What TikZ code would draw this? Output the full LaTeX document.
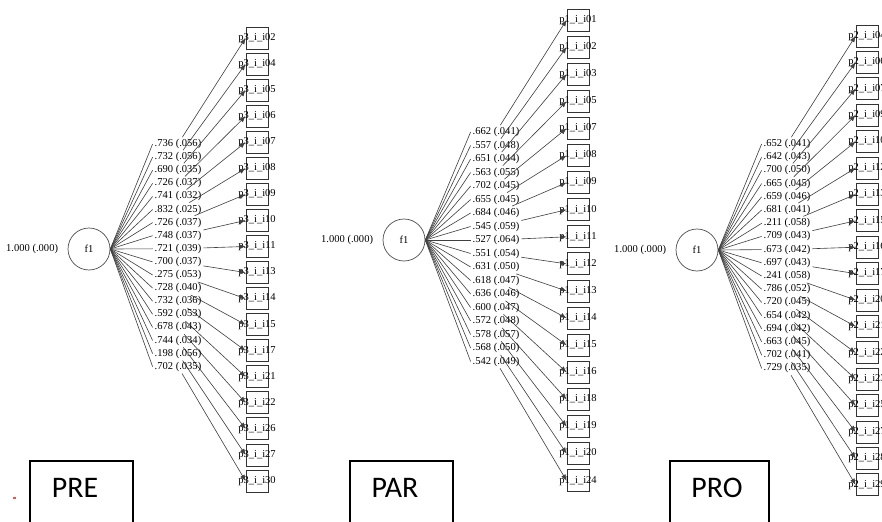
\documentclass[tikz,border=0pt]{standalone}
\usepackage{fontspec}
\setmainfont{Liberation Serif}
\newfontfamily\tagfont{Carlito}
\usetikzlibrary{positioning,arrows.meta}

\tikzset{
  latent/.style={circle, draw=black!70, line width=0.4pt, minimum size=0.84cm,
    inner sep=0pt, font=\fontsize{6}{7}\selectfont},
  obs/.style={rectangle, draw=black!80, line width=0.5pt, minimum size=0.44cm, inner sep=0pt},
  itemname/.style={font=\fontsize{6}{7}\selectfont, inner sep=0pt},
  load/.style={font=\fontsize{6}{7}\selectfont, inner sep=1pt},
  link/.style={draw=black!75, line width=0.35pt},
  tagline/.style={draw=black, line width=0.8pt},
  tag/.style={font=\tagfont\fontsize{17}{20}\selectfont, inner sep=0pt},
}

\begin{document}
\begin{tikzpicture}[x=0.02cm, y=-0.02cm, >={Latex[length=3.5pt,width=2.8pt]}]
    \useasboundingbox (0,0) rectangle (882,521);

    % pre model
    \node[latent] (pref) at (89,249) {f1};
    \node[load, left=0.15cm of pref] (prevar) {1.000 (.000)};
    \foreach \item/\lab [count=\k from 0] in {02/{.736 (.056)}, 04/{.732 (.056)}, 05/{.690 (.035)},
        06/{.726 (.037)}, 07/{.741 (.032)}, 08/{.832 (.025)}, 09/{.726 (.037)}, 10/{.748 (.037)},
        11/{.721 (.039)}, 13/{.700 (.037)}, 14/{.275 (.053)}, 15/{.728 (.040)}, 17/{.732 (.036)},
        21/{.592 (.053)}, 22/{.678 (.043)}, 26/{.744 (.034)}, 27/{.198 (.056)}, 30/{.702 (.035)}} {
        \node[obs, label={[itemname]center:p3\_i\_i\item}] (pre\item) at (257,{38+26.06*\k}) {};
        \node[load] (preL\item) at (178,{144+13.1*\k}) {\lab};
        \draw[link] (pref.east) -- (preL\item.west);
        \draw[link,->] (preL\item) -- (pre\item.west);
    }
    \draw[tagline] (30,461) rectangle (133,540);
    \node[tag] (pretag) at (75,488) {PRE};
    \draw[red!70, line width=0.6pt] (13,498) -- (16,498);

    % par model
    \node[latent] (parf) at (404,240) {f1};
    \node[load, left=0.15cm of parf] (parvar) {1.000 (.000)};
    \foreach \item/\lab [count=\k from 0] in {01/{.662 (.041)}, 02/{.557 (.048)}, 03/{.651 (.044)},
        05/{.563 (.055)}, 07/{.702 (.045)}, 08/{.655 (.045)}, 09/{.684 (.046)}, 10/{.545 (.059)},
        11/{.527 (.064)}, 12/{.551 (.054)}, 13/{.631 (.050)}, 14/{.618 (.047)}, 15/{.636 (.046)},
        16/{.600 (.047)}, 18/{.572 (.048)}, 19/{.578 (.057)}, 20/{.568 (.050)}, 24/{.542 (.049)}} {
        \node[obs, label={[itemname]center:p1\_i\_i\item}] (par\item) at (578,{20+27.1*\k}) {};
        \node[load] (parL\item) at (496,{132+13.5*\k}) {\lab};
        \draw[link] (parf.east) -- (parL\item.west);
        \draw[link,->] (parL\item) -- (par\item.west);
    }
    \draw[tagline] (350,461) rectangle (453,540);
    \node[tag] (partag) at (395,488) {PAR};

    % pro model
    \node[latent] (prof) at (697,250) {f1};
    \node[load, left=0.15cm of prof] (provar) {1.000 (.000)};
    \foreach \item/\lab [count=\k from 0] in {04/{.652 (.041)}, 06/{.642 (.043)}, 07/{.700 (.050)},
        09/{.665 (.045)}, 10/{.659 (.046)}, 12/{.681 (.041)}, 13/{.211 (.058)}, 15/{.709 (.043)},
        16/{.673 (.042)}, 17/{.697 (.043)}, 20/{.241 (.058)}, 21/{.786 (.052)}, 22/{.720 (.045)},
        23/{.654 (.042)}, 25/{.694 (.042)}, 27/{.663 (.045)}, 28/{.702 (.041)}, 29/{.729 (.035)}} {
        \node[obs, label={[itemname]center:p2\_i\_i\item}] (pro\item) at (867,{36+26.4*\k}) {};
        \node[load] (proL\item) at (787,{144+13.2*\k}) {\lab};
        \draw[link] (prof.east) -- (proL\item.west);
        \draw[link,->] (proL\item) -- (pro\item.west);
    }
    \draw[tagline] (670,461) rectangle (769,540);
    \node[tag] (protag) at (717,488) {PRO};
\end{tikzpicture}
\end{document}
